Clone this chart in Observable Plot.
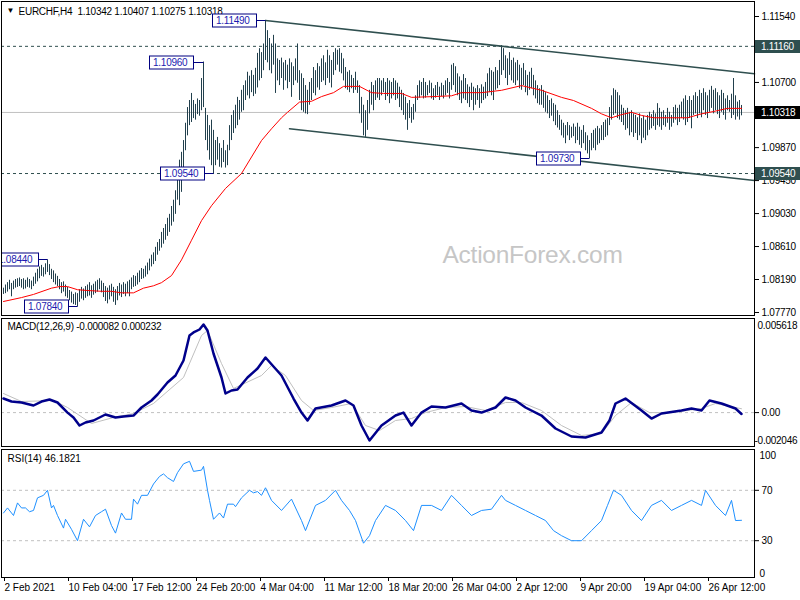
<!DOCTYPE html>
<html><head><meta charset="utf-8">
<script src="https://cdn.jsdelivr.net/npm/d3@7"></script>
<script src="https://cdn.jsdelivr.net/npm/@observablehq/plot@0.6"></script>
<style>
body{margin:0;background:#fff;}
#chart{position:relative;width:800px;height:600px;overflow:hidden;background:#fff;}
#chart svg{position:absolute;left:0;}
</style></head><body><div id="chart"></div>
<script>
// ---- OHLC bars (H4, bar index 0 = 2 Feb 2021 00:00) ----
const high = [
1.0808,1.0812,1.0815,1.0818,1.0814,1.0817,1.0819,1.0820,1.0821,1.0819,
1.0820,1.0818,1.0821,1.0819,1.0817,1.0822,1.0827,1.0832,1.0835,1.0837,
1.0834,1.0839,1.0844,1.0838,1.0832,1.0830,1.0826,1.0823,1.0819,1.0815,
1.0816,1.0812,1.0809,1.0805,1.0803,1.0800,1.0802,1.0801,1.0806,1.0809,
1.0807,1.0810,1.0812,1.0815,1.0811,1.0813,1.0816,1.0818,1.0820,1.0817,
1.0814,1.0810,1.0808,1.0811,1.0813,1.0809,1.0806,1.0810,1.0814,1.0812,
1.0815,1.0813,1.0816,1.0818,1.0821,1.0824,1.0823,1.0827,1.0830,1.0833,
1.0832,1.0836,1.0840,1.0845,1.0850,1.0853,1.0860,1.0866,1.0870,1.0879,
1.0884,1.0889,1.0897,1.0902,1.0912,1.0920,1.0932,1.0958,1.0971,1.0981,
1.0996,1.1018,1.1038,1.1047,1.1056,1.1047,1.1042,1.1049,1.1047,1.1075,
1.1096,1.1037,1.1028,1.1015,1.1022,1.1009,1.0996,1.1000,1.0992,1.0986,
1.0996,1.0983,1.0990,1.1015,1.1028,1.1034,1.1041,1.1051,1.1047,1.1060,
1.1066,1.1072,1.1083,1.1078,1.1085,1.1079,1.1088,1.1107,1.1113,1.1108,
1.1119,1.1149,1.1136,1.1126,1.1119,1.1130,1.1119,1.1100,1.1098,1.1101,
1.1095,1.1098,1.1092,1.1100,1.1095,1.1090,1.1100,1.1119,1.1085,1.1081,
1.1075,1.1066,1.1060,1.1070,1.1075,1.1089,1.1085,1.1094,1.1090,1.1100,
1.1104,1.1095,1.1111,1.1104,1.1098,1.1108,1.1113,1.1111,1.1113,1.1107,
1.1100,1.1089,1.1083,1.1085,1.1079,1.1075,1.1083,1.1072,1.1066,1.1051,
1.1041,1.1034,1.1047,1.1060,1.1070,1.1066,1.1072,1.1075,1.1075,1.1072,
1.1075,1.1070,1.1075,1.1072,1.1070,1.1075,1.1072,1.1069,1.1064,1.1060,
1.1056,1.1051,1.1043,1.1047,1.1038,1.1042,1.1053,1.1066,1.1072,1.1070,
1.1075,1.1070,1.1066,1.1072,1.1069,1.1062,1.1066,1.1070,1.1064,1.1069,
1.1066,1.1072,1.1075,1.1070,1.1092,1.1094,1.1090,1.1081,1.1077,1.1072,
1.1080,1.1075,1.1067,1.1064,1.1069,1.1064,1.1062,1.1066,1.1062,1.1067,
1.1064,1.1070,1.1081,1.1088,1.1085,1.1083,1.1089,1.1085,1.1098,1.1117,
1.1113,1.1104,1.1100,1.1108,1.1098,1.1101,1.1095,1.1098,1.1092,1.1088,
1.1094,1.1085,1.1079,1.1083,1.1088,1.1079,1.1072,1.1066,1.1062,1.1066,
1.1060,1.1057,1.1053,1.1047,1.1049,1.1043,1.1041,1.1034,1.1028,1.1022,
1.1018,1.1015,1.1019,1.1015,1.1013,1.1017,1.1013,1.1018,1.1013,1.1009,
1.1015,1.1006,1.1002,1.0996,1.1005,1.1009,1.1011,1.1014,1.1011,1.1015,
1.1019,1.1022,1.1024,1.1038,1.1053,1.1062,1.1060,1.1057,1.1053,1.1041,
1.1037,1.1034,1.1037,1.1032,1.1034,1.1030,1.1028,1.1025,1.1030,1.1024,
1.1027,1.1022,1.1028,1.1032,1.1029,1.1034,1.1030,1.1043,1.1037,1.1032,
1.1034,1.1028,1.1037,1.1032,1.1028,1.1038,1.1041,1.1037,1.1041,1.1045,
1.1049,1.1053,1.1047,1.1052,1.1047,1.1053,1.1057,1.1052,1.1060,1.1056,
1.1062,1.1057,1.1053,1.1060,1.1065,1.1060,1.1062,1.1057,1.1053,1.1060,
1.1056,1.1049,1.1053,1.1047,1.1055,1.1075,1.1053,1.1045,1.1047,1.10407];
const low = [
1.0800,1.0801,1.0803,1.0806,1.0797,1.0806,1.0808,1.0809,1.0810,1.0808,
1.0806,1.0807,1.0809,1.0808,1.0806,1.0810,1.0813,1.0816,1.0820,1.0823,
1.0822,1.0825,1.0828,1.0824,1.0819,1.0815,1.0812,1.0810,1.0806,1.0801,
1.0803,1.0797,1.0795,1.0792,1.0789,1.0787,1.0786,1.0784,1.0790,1.0794,
1.0792,1.0795,1.0797,1.0798,1.0795,1.0799,1.0801,1.0803,1.0806,1.0802,
1.0796,1.0791,1.0788,1.0793,1.0797,1.0790,1.0786,1.0792,1.0798,1.0796,
1.0800,1.0797,1.0801,1.0797,1.0806,1.0809,1.0810,1.0812,1.0815,1.0819,
1.0820,1.0822,1.0825,1.0830,1.0835,1.0838,1.0842,1.0850,1.0855,1.0859,
1.0864,1.0869,1.0874,1.0879,1.0887,1.0892,1.0902,1.0920,1.0913,1.0930,
1.0952,1.0983,1.1002,1.1015,1.1019,1.1024,1.1022,1.1029,1.1027,1.1034,
1.1038,1.0996,1.0983,1.0971,1.0964,1.0954,1.0964,1.0971,1.0962,1.0961,
1.0968,1.0961,1.0964,1.0983,1.0996,1.1005,1.1011,1.1015,1.1022,1.1032,
1.1034,1.1047,1.1053,1.1049,1.1057,1.1052,1.1055,1.1063,1.1072,1.1075,
1.1085,1.1098,1.1095,1.1085,1.1081,1.1092,1.1056,1.1072,1.1066,1.1075,
1.1060,1.1072,1.1062,1.1070,1.1051,1.1066,1.1072,1.1069,1.1047,1.1034,
1.1032,1.1030,1.1029,1.1041,1.1047,1.1056,1.1053,1.1063,1.1060,1.1070,
1.1072,1.1066,1.1075,1.1069,1.1063,1.1079,1.1085,1.1092,1.1083,1.1081,
1.1072,1.1062,1.1060,1.1057,1.1062,1.1056,1.1060,1.1056,1.1030,1.1018,
1.1002,1.1000,1.1009,1.1030,1.1041,1.1034,1.1047,1.1050,1.1047,1.1053,
1.1057,1.1047,1.1052,1.1043,1.1049,1.1053,1.1047,1.1049,1.1038,1.1034,
1.1028,1.1022,1.1009,1.1024,1.1018,1.1022,1.1032,1.1047,1.1050,1.1053,
1.1049,1.1050,1.1053,1.1056,1.1049,1.1047,1.1050,1.1053,1.1047,1.1052,
1.1049,1.1053,1.1056,1.1049,1.1060,1.1066,1.1057,1.1053,1.1047,1.1043,
1.1049,1.1047,1.1043,1.1038,1.1047,1.1034,1.1041,1.1047,1.1037,1.1043,
1.1047,1.1049,1.1052,1.1057,1.1053,1.1047,1.1060,1.1062,1.1066,1.1079,
1.1085,1.1075,1.1066,1.1079,1.1072,1.1069,1.1066,1.1072,1.1062,1.1060,
1.1066,1.1057,1.1053,1.1060,1.1062,1.1053,1.1049,1.1043,1.1041,1.1041,
1.1037,1.1032,1.1030,1.1024,1.1027,1.1020,1.1015,1.1012,1.1009,1.1002,
1.0999,1.0992,1.1002,1.0996,1.0999,1.1001,1.0992,1.0996,1.0990,1.0986,
1.0992,1.0983,1.0979,1.0973,1.0983,1.0986,1.0983,1.0990,1.0992,1.0996,
1.0996,1.1000,1.1002,1.1015,1.1022,1.1028,1.1030,1.1024,1.1022,1.1019,
1.1015,1.1009,1.1011,1.1002,1.1006,1.1000,1.1005,1.0996,1.1002,1.0992,
1.0999,1.0996,1.1002,1.1009,1.1011,1.1014,1.1009,1.1015,1.1013,1.1009,
1.1015,1.1013,1.1018,1.1009,1.1013,1.1018,1.1022,1.1015,1.1019,1.1024,
1.1022,1.1015,1.1019,1.1024,1.1011,1.1028,1.1030,1.1024,1.1030,1.1025,
1.1034,1.1028,1.1024,1.1032,1.1037,1.1030,1.1034,1.1029,1.1024,1.1032,
1.1028,1.1022,1.1034,1.1032,1.1024,1.1028,1.1022,1.1026,1.1022,1.10275];

// ---- moving average (red) ----
const maIdx = [0,9,15,24,28,32,37,42,49,54,59,65,70,75,79,84,89,94,99,104,111,119,129,134,139,142,148,154,159,165,170,178,184,190,199,204,215,224,229,239,249,259,269,279,285,294,299,304,309,314,319,325,335,342,349,355,362,369];
const maVal = [1.0791,1.0796,1.0800,1.0808,1.0810,1.0810,1.0806,1.0805,1.0804,1.0804,1.0802,1.0802,1.0808,1.0811,1.0815,1.0824,1.0844,1.0869,1.0894,1.0913,1.0935,1.0954,1.0996,1.1011,1.1025,1.1032,1.1045,1.1046,1.1052,1.1057,1.1065,1.1065,1.1057,1.1056,1.1056,1.1051,1.1052,1.1053,1.1057,1.1057,1.1060,1.1066,1.1060,1.1051,1.1047,1.1037,1.1030,1.1025,1.1029,1.1032,1.1028,1.1025,1.1025,1.1025,1.1030,1.1033,1.1037,1.1037];

// ---- MACD(12,26,9) ----
const macdIdx = [0,4,9,15,19,23,27,32,35,38,41,45,51,56,60,65,69,74,77,82,86,90,93,95,98,100,102,105,109,111,114,117,122,127,131,139,145,149,152,156,164,171,175,179,183,189,196,200,204,209,214,221,229,234,239,246,251,256,261,269,276,284,291,299,303,306,311,319,324,329,339,344,349,353,359,366,369];
const macdVal = [0.00085,0.000669,0.000609,0.000428,0.000669,0.00079,0.000609,0.0,-0.000296,-0.000779,-0.000598,-0.000477,-0.000115,-0.000296,-0.000236,-0.000176,0.000307,0.00073,0.001092,0.001816,0.002238,0.003144,0.004652,0.004834,0.005014,0.005316,0.004954,0.003566,0.002118,0.001152,0.001333,0.001394,0.002118,0.002661,0.003325,0.002238,0.00085,0.0,-0.000477,0.000247,0.000428,0.00073,0.000428,-0.000779,-0.001684,-0.000779,-0.000176,0.0,-0.000779,0.0,0.000367,0.000307,0.000549,0.000126,0.0,0.000307,0.000911,0.00073,0.000307,-0.000176,-0.00096,-0.001443,-0.001503,-0.001201,-0.000477,0.000549,0.00085,0.000126,-0.000357,-0.000055,0.000126,0.000247,0.000126,0.00073,0.000549,0.000247,-0.000082];
const sigIdx = [0,9,25,32,44,55,65,75,90,99,102,109,115,129,134,141,149,155,164,174,181,188,196,204,211,221,231,241,251,259,269,279,289,299,306,314,323,334,349,356,369];
const sigVal = [0.001152,0.000669,0.00073,0.000307,-0.000658,-0.000296,-0.000055,0.000549,0.002118,0.004652,0.004954,0.002963,0.001454,0.002238,0.002842,0.002238,0.00073,0.000126,0.000307,0.000549,-0.000779,-0.001081,-0.000477,-0.000357,0.0,0.000307,0.000367,0.000126,0.000609,0.000609,0.000126,-0.000779,-0.001382,-0.001262,-0.000176,0.000609,0.0,0.0,0.000247,0.000549,0.000232];

// ---- RSI(14) ----
const rsiIdx = [0,2,5,7,9,11,13,15,17,20,22,24,25,27,30,31,34,37,40,43,46,49,51,54,56,59,61,64,65,67,69,72,75,78,80,82,85,87,90,93,95,99,100,102,103,105,108,110,112,115,116,119,123,125,127,129,131,134,139,144,149,151,156,161,166,169,173,176,180,183,186,191,196,201,205,209,214,219,224,229,234,239,244,249,251,256,261,266,271,275,279,284,289,294,299,302,305,309,314,319,324,329,334,339,344,349,351,356,361,364,366,369];
const rsiVal = [52,56,50,60,56,56,53,54,64,66,70,56,58,50,40,47,39,30,47,41,50,53,55,42,36,52,47,47,63,59,66,66,75,81,83,80,77,84,91,93,85,86,89,70,62,47,52,48,59,59,57,64,70,68,69,66,72,62,54,63,46,38,58,62,70,62,54,46,28,34,46,58,54,46,38,58,58,54,66,58,50,54,55,66,62,58,54,50,46,38,34,30,30,38,46,58,70,66,54,46,58,62,54,58,62,58,70,58,50,62,46,46.1821];

// ---- annotations, levels, channel, axes ----
const swingIdx = [131,100,105,293,22,37];
const swingPrice = [1.1149,1.1096,1.0954,1.0973,1.0844,1.0784];
const levelPrices = [1.1116,1.0954];
const lastPrice = 1.10318;
const upperIdx = [131,375.5], upperPrice = [1.1149,1.1081];
const lowerIdx = [143,375.5], lowerPrice = [1.1011,1.0945];
const priceTicks = [1.1154,1.1112,1.1070,1.1028,1.0987,1.0945,1.0903,1.0861,1.0819,1.0777];
const rsiLevels = [70, 30];
const timeIdx = [0,32,64,96,128,160,192,224,256,288,320,352];
const timeLabels = ["2 Feb 2021","10 Feb 04:00","17 Feb 12:00","24 Feb 20:00","4 Mar 04:00","11 Mar 12:00","18 Mar 20:00","26 Mar 04:00","2 Apr 12:00","9 Apr 20:00","19 Apr 04:00","26 Apr 12:00"];
const titleMain = "EURCHF,H4  1.10342 1.10407 1.10275 1.10318";
const titleMacd = "MACD(12,26,9) -0.000082 0.000232";
const titleRsi = "RSI(14) 46.1821";

const FONT = '"Liberation Sans", Arial, sans-serif';
const BAR = "#22404d", SLATE = "#2f4f4f";
const style = {fontFamily: FONT, fontSize: "10px", background: "transparent", color: "black", overflow: "visible", letterSpacing: "-0.25px"};
const styleRsi = {fontFamily: FONT, fontSize: "10px", background: "transparent", color: "black", overflow: "visible"};
const xDom = [-1, 375.5];

const bars = high.map((h, i) => ({i, high: h, low: low[i]}));
const ma = maIdx.map((i, k) => ({i, v: maVal[k]}));
const upper = upperIdx.map((i, k) => ({i, p: upperPrice[k]}));
const lower = lowerIdx.map((i, k) => ({i, p: lowerPrice[k]}));
const macd = macdIdx.map((i, k) => ({i, v: macdVal[k]}));
const sig = sigIdx.map((i, k) => ({i, v: sigVal[k]}));
const rsi = rsiIdx.map((i, k) => ({i, v: rsiVal[k]}));

const chart = document.getElementById("chart");

// ---------- main price panel ----------
const main = Plot.plot({
  width: 800, height: 318,
  marginLeft: 1, marginRight: 46, marginTop: 1, marginBottom: 3,
  style,
  x: {domain: xDom, axis: null},
  y: {domain: [1.077316, 1.117311], axis: null},
  marks: [
    Plot.text(["ActionForex.com"], {text: d => d, frameAnchor: "top-left", textAnchor: "start", lineAnchor: "middle", dx: 441, dy: 254, fontSize: 24.5, fill: "#c6c6c6"}),
    Plot.ruleY([lastPrice], {stroke: "#c0c0c0"}),
    Plot.ruleY(levelPrices, {stroke: SLATE, strokeDasharray: "3,3"}),
    Plot.ruleX(bars, {x: "i", y1: "low", y2: "high", stroke: BAR, strokeWidth: 1}),
    Plot.line(ma, {x: "i", y: "v", stroke: "red", strokeWidth: 1}),
    Plot.line(upper, {x: "i", y: "p", stroke: SLATE, strokeWidth: 1.5}),
    Plot.line(lower, {x: "i", y: "p", stroke: SLATE, strokeWidth: 1.5}),
    Plot.frame({stroke: "black"}),
    Plot.axisY(priceTicks, {anchor: "right", label: null, tickSize: 4, tickPadding: 3, tickFormat: d => d.toFixed(5), fontSize: 10}),
    Plot.text(["▼"], {text: d => d, frameAnchor: "top-left", textAnchor: "start", lineAnchor: "middle", dx: 5, dy: 9, fontSize: 8}),
    Plot.text([titleMain], {text: d => d, frameAnchor: "top-left", textAnchor: "start", lineAnchor: "middle", dx: 17, dy: 10, fontSize: 10})
  ]
});
main.style.top = "0px";
chart.appendChild(main);

{
  const sx = main.scale("x"), sy = main.scale("y");
  const svg = d3.select(main);
  const defs = svg.append("defs");
  defs.append("clipPath").attr("id", "mainclip").append("rect").attr("x", 2).attr("y", 2).attr("width", 752).attr("height", 313);
  const g = svg.append("g").attr("clip-path", "url(#mainclip)")
    .style("font-family", FONT).style("font-size", "10px").attr("text-anchor", "start");
  swingIdx.forEach((i, k) => {
    const p = swingPrice[k];
    const bx = sx.apply(i) + 0.5, by = Math.round(sy.apply(p)) + 0.5;
    const right = Math.round(bx - 10) + 0.5, w = 44, left = right - w;
    g.append("line").attr("x1", right).attr("x2", bx).attr("y1", by).attr("y2", by).attr("stroke", "#000080");
    g.append("rect").attr("x", left).attr("y", by - 6.5).attr("width", w).attr("height", 13)
      .attr("fill", "white").attr("stroke", "#000080");
    g.append("text").attr("x", left + 3.5).attr("y", by + 3.5).attr("text-anchor", "start")
      .attr("fill", "#1c1cb0").text(p.toFixed(5));
  });
  const hlPrices = [1.1116, lastPrice, 1.0954];
  const hlFill = [SLATE, "#000000", SLATE];
  const ga = svg.append("g").style("font-family", FONT).style("font-size", "10px").attr("text-anchor", "start");
  hlPrices.forEach((p, k) => {
    const y = Math.round(sy.apply(p));
    ga.append("rect").attr("x", 755).attr("y", y - 6).attr("width", 45).attr("height", 13).attr("fill", hlFill[k]);
    ga.append("text").attr("x", 761).attr("y", y + 4).attr("text-anchor", "start").attr("fill", "white").text(p.toFixed(5));
  });
}

// ---------- MACD panel ----------
const macdPlot = Plot.plot({
  width: 800, height: 129,
  marginLeft: 1, marginRight: 46, marginTop: 0, marginBottom: 1,
  style,
  x: {domain: xDom, axis: null},
  y: {domain: [-0.002046, 0.005678], axis: null},
  marks: [
    Plot.ruleY([0], {stroke: "#c0c0c0", strokeDasharray: "3,3"}),
    Plot.line(sig, {x: "i", y: "v", stroke: "#c0c0c0", strokeWidth: 1}),
    Plot.line(macd, {x: "i", y: "v", stroke: "#00008b", strokeWidth: 2.5}),
    Plot.frame({stroke: "black"}),
    Plot.axisY([0], {anchor: "right", label: null, tickSize: 4, tickPadding: 3, tickFormat: () => "0.00", fontSize: 10}),
    Plot.text(["0.005618"], {text: d => d, frameAnchor: "top-right", textAnchor: "start", lineAnchor: "middle", dx: 3, dy: 7, fontSize: 10}),
    Plot.text(["-0.002046"], {text: d => d, frameAnchor: "bottom-right", textAnchor: "start", lineAnchor: "middle", dx: 0, dy: -6, fontSize: 10}),
    Plot.text([titleMacd], {text: d => d, frameAnchor: "top-left", textAnchor: "start", lineAnchor: "middle", dx: 6, dy: 8, fontSize: 10})
  ]
});
macdPlot.style.top = "318px";
chart.appendChild(macdPlot);

// ---------- RSI panel ----------
const rsiPlot = Plot.plot({
  width: 800, height: 151,
  marginLeft: 1, marginRight: 46, marginTop: 0, marginBottom: 23,
  style: styleRsi,
  x: {domain: xDom, axis: null},
  y: {domain: [0.79, 102.38], axis: null},
  marks: [
    Plot.ruleY(rsiLevels, {stroke: "#c0c0c0", strokeDasharray: "3,3"}),
    Plot.line(rsi, {x: "i", y: "v", stroke: "#1e90ff", strokeWidth: 1}),
    Plot.frame({stroke: "black"}),
    Plot.axisY(rsiLevels, {anchor: "right", label: null, tickSize: 4, tickPadding: 3, fontSize: 10}),
    Plot.text(["100"], {text: d => d, frameAnchor: "top-right", textAnchor: "start", dx: 5, dy: 2, fontSize: 10}),
    Plot.text(["0"], {text: d => d, frameAnchor: "bottom-right", textAnchor: "start", dx: 5, dy: -1, fontSize: 10}),
    Plot.text([titleRsi], {text: d => d, frameAnchor: "top-left", textAnchor: "start", lineAnchor: "middle", dx: 6, dy: 9, fontSize: 10}),
    Plot.axisX(timeIdx, {anchor: "bottom", label: null, tickSize: 4, tickPadding: 2, textAnchor: "start", dx: 1,
      tickFormat: d => timeLabels[timeIdx.indexOf(d)], fontSize: 10})
  ]
});
rsiPlot.style.top = "449px";
chart.appendChild(rsiPlot);
</script>
</body></html>
